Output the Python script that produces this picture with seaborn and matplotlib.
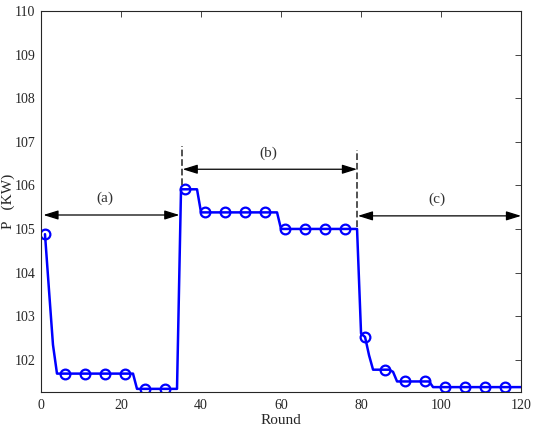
import numpy as np
import pandas as pd
import seaborn as sns
import matplotlib
matplotlib.use('Agg')
import matplotlib.pyplot as plt

# power value for each round
rounds = np.arange(1, 121)
power = ([104.88, 103.6, 102.34] + [101.68] * 20 + [101.33] * 11
         + [105.91] * 5 + [105.38] * 20 + [105.0] * 20
         + [102.6, 102.52, 102.1] + [101.77] * 5 + [101.72, 101.5]
         + [101.5] * 8 + [101.37] * 23)

df = pd.DataFrame({'Round': rounds, 'P': power})

sns.set_style('white')
plt.rcParams['font.family'] = ['Liberation Serif', 'DejaVu Serif']

fig = plt.figure(figsize=(5.35, 4.26), dpi=100)
ax = fig.add_axes([0.0766, 0.079, 0.8974, 0.895])

sns.lineplot(data=df, x='Round', y='P', ax=ax, color='#0000ff', linewidth=1.8,
             marker='o', markevery=5, markersize=7, markerfacecolor='none',
             markeredgecolor='#0000ff', markeredgewidth=1.6)

ax.set_xlim(0, 120)
ax.set_ylim(101.25, 110)
ax.set_xticks([0, 20, 40, 60, 80, 100, 120])
ax.set_yticks([102, 103, 104, 105, 106, 107, 108, 109, 110])
ax.tick_params(direction='in', length=4, width=0.6, top=True, right=True,
               labelsize=10, colors='#262626')
ax.tick_params(axis='x', pad=5)
ax.tick_params(axis='y', pad=4)
for s in ax.spines.values():
    s.set_color('#262626')
    s.set_linewidth(0.8)
ax.set_xlabel('Round', fontsize=11)
ax.xaxis.set_label_coords(0.5, -0.056)
ax.set_ylabel('P   (KW)', fontsize=11)
ax.yaxis.set_label_coords(-0.054, 0.5)

# phase markers
ax.plot([35.2, 35.2], [106.0, 106.9], ls='--', color='#444444', lw=1.3)
ax.plot([79.1, 79.1], [105.05, 106.82], ls='--', color='#444444', lw=1.3)

arrow = dict(arrowstyle='<|-|>,head_length=0.9,head_width=0.28', color='black',
             lw=0.9, shrinkA=0, shrinkB=0)
ax.annotate('', xy=(34.6, 105.32), xytext=(0.6, 105.32), arrowprops=arrow)
ax.annotate('', xy=(79.0, 106.37), xytext=(35.4, 106.37), arrowprops=arrow)
ax.annotate('', xy=(120, 105.3), xytext=(79.2, 105.3), arrowprops=arrow)
ax.text(16, 105.7, '(a)', ha='center', va='center', fontsize=11, color='#333333')
ax.text(56.8, 106.74, '(b)', ha='center', va='center', fontsize=11, color='#333333')
ax.text(99, 105.69, '(c)', ha='center', va='center', fontsize=11, color='#333333')

fig.savefig('out.png', dpi=100)
